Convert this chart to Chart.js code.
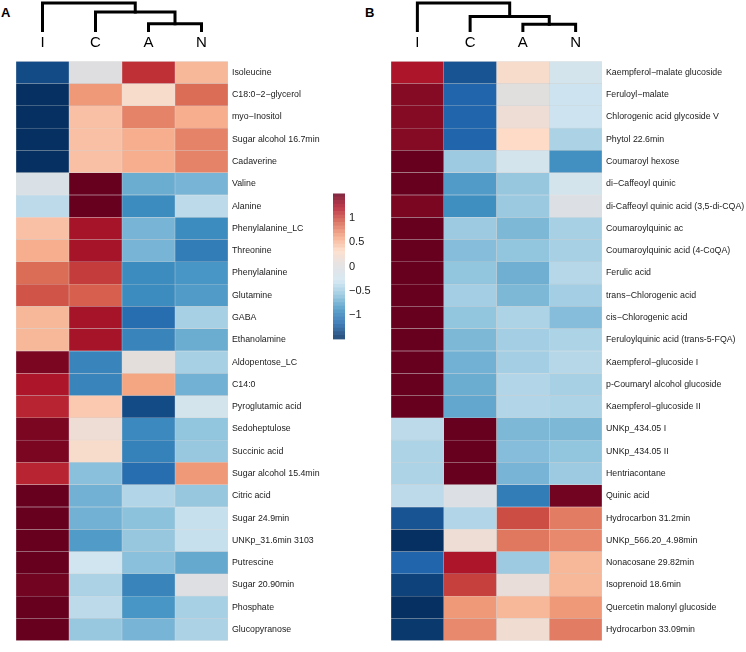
<!DOCTYPE html>
<html>
<head>
<meta charset="utf-8">
<script src="https://cdn.jsdelivr.net/npm/chart.js@4.4.1/dist/chart.umd.min.js"></script>
<style>
  body { margin: 0; background: #fff; width: 746px; height: 652px; position: relative; overflow: hidden;
         font-family: "Liberation Sans", Arial, Helvetica, sans-serif; }
  canvas { position: absolute; }
  .tag { position: absolute; font-weight: bold; font-size: 13px; line-height: 13px; color: #000; }
</style>
</head>
<body>
<div class="tag" style="left:1px;top:6px">A</div>
<div class="tag" style="left:365px;top:6px">B</div>

<canvas id="treeA" width="212" height="52" style="left:16px;top:0"></canvas>
<canvas id="heatA" width="362" height="598" style="left:16px;top:52px"></canvas>
<canvas id="treeB" width="211" height="52" style="left:391px;top:0"></canvas>
<canvas id="heatB" width="355" height="598" style="left:391px;top:52px"></canvas>
<canvas id="scale" width="52" height="167" style="left:333px;top:183px;z-index:2"></canvas>

<script>
const FONT = '"Liberation Sans", Arial, Helvetica, sans-serif';

// sample groups (columns), same order in both panels
const groups = ['I', 'C', 'A', 'N'];

// panel A: metabolites
const rowsA = ['Isoleucine', 'C18:0−2−glycerol', 'myo−Inositol', 'Sugar alcohol 16.7min', 'Cadaverine',
  'Valine', 'Alanine', 'Phenylalanine_LC', 'Threonine', 'Phenylalanine', 'Glutamine', 'GABA', 'Ethanolamine',
  'Aldopentose_LC', 'C14:0', 'Pyroglutamic acid', 'Sedoheptulose', 'Succinic acid', 'Sugar alcohol 15.4min',
  'Citric acid', 'Sugar 24.9min', 'UNKp_31.6min 3103', 'Putrescine', 'Sugar 20.90min', 'Phosphate', 'Glucopyranose'];
const aI = [-1.35, -1.5, -1.5, -1.5, -1.5, -0.12, -0.4, 0.45, 0.55, 0.85, 0.95, 0.5, 0.5,
  1.42, 1.22, 1.15, 1.42, 1.42, 1.15, 1.5, 1.5, 1.5, 1.5, 1.45, 1.5, 1.5];
const aC = [0, 0.65, 0.45, 0.45, 0.45, 1.5, 1.5, 1.25, 1.25, 1.05, 0.9, 1.25, 1.25,
  -1.0, -1.0, 0.4, 0.15, 0.25, -0.63, -0.72, -0.72, -0.85, -0.3, -0.48, -0.4, -0.57];
const aA = [1.1, 0.25, 0.75, 0.55, 0.55, -0.75, -0.95, -0.7, -0.7, -0.95, -0.95, -1.15, -1.0,
  0.05, 0.6, -1.35, -0.97, -1.02, -1.15, -0.45, -0.62, -0.58, -0.63, -1.0, -0.88, -0.7];
const aN = [0.5, 0.85, 0.55, 0.75, 0.75, -0.7, -0.4, -0.95, -1.05, -0.88, -0.85, -0.5, -0.75,
  -0.5, -0.72, -0.25, -0.6, -0.57, 0.65, -0.58, -0.35, -0.35, -0.77, -0.03, -0.5, -0.48];

// panel B: phenolics etc.
const rowsB = ['Kaempferol−malate glucoside', 'Feruloyl−malate', 'Chlorogenic acid glycoside V', 'Phytol 22.6min',
  'Coumaroyl hexose', 'di−Caffeoyl quinic', 'di-Caffeoyl quinic acid (3,5-di-CQA)', 'Coumaroylquinic ac',
  'Coumaroylquinic acid (4-CoQA)', 'Ferulic acid', 'trans−Chlorogenic acid', 'cis−Chlorogenic acid',
  'Feruloylquinic acid (trans-5-FQA)', 'Kaempferol−glucoside I', 'p-Coumaryl alcohol glucoside',
  'Kaempferol−glucoside II', 'UNKp_434.05 I', 'UNKp_434.05 II', 'Hentriacontane', 'Quinic acid',
  'Hydrocarbon 31.2min', 'UNKp_566.20_4.98min', 'Nonacosane 29.82min', 'Isoprenoid 18.6min',
  'Quercetin malonyl glucoside', 'Hydrocarbon 33.09min'];
const bI = [1.22, 1.38, 1.38, 1.38, 1.5, 1.5, 1.42, 1.5, 1.5, 1.5, 1.5, 1.5, 1.5, 1.5, 1.5, 1.5,
  -0.4, -0.47, -0.47, -0.4, -1.3, -1.5, -1.2, -1.4, -1.5, -1.45];
const bC = [-1.3, -1.2, -1.2, -1.2, -0.55, -0.85, -0.93, -0.55, -0.65, -0.6, -0.52, -0.6, -0.68, -0.72, -0.75, -0.78,
  1.5, 1.5, 1.5, -0.05, -0.45, 0.15, 1.22, 1.03, 0.65, 0.72];
const bA = [0.25, 0.03, 0.15, 0.3, -0.25, -0.58, -0.56, -0.68, -0.6, -0.73, -0.68, -0.47, -0.52, -0.52, -0.45, -0.45,
  -0.68, -0.65, -0.7, -1.05, 0.98, 0.8, -0.55, 0.1, 0.5, 0.18];
const bN = [-0.25, -0.32, -0.32, -0.48, -0.92, -0.25, -0.05, -0.5, -0.5, -0.43, -0.52, -0.65, -0.47, -0.43, -0.5, -0.47,
  -0.68, -0.6, -0.55, 1.45, 0.78, 0.72, 0.5, 0.5, 0.65, 0.78];

// column dendrograms: merge heights for (A,N), (C,AN), (I,CAN)
const treeOrder = [[2, 3], [1, 4], [0, 5]];
const treeHeightsA = [0.28, 0.69, 1.0];
const treeHeightsB = [0.27, 0.53, 1.0];

// colour key
const legendTicks = [-1, -0.5, 0, 0.5, 1];
const vmin = -1.5, vmax = 1.5;
const palette = ['#053061', '#2166ac', '#4393c3', '#92c5de', '#d1e5f0', '#dedee0',
  '#fddbc7', '#f4a582', '#d6604d', '#b2182b', '#67001f'];

function hexToRgb(h) {
  return [1, 3, 5].map(i => parseInt(h.slice(i, i + 2), 16));
}

function colorFor(v, fade = 0) {
  const t = (Math.min(vmax, Math.max(vmin, v)) - vmin) / (vmax - vmin) * (palette.length - 1);
  const i = Math.min(Math.floor(t), palette.length - 2);
  const f = t - i;
  const a = hexToRgb(palette[i]), b = hexToRgb(palette[i + 1]);
  const c = a.map((x, k) => Math.round((x + (b[k] - x) * f) * (1 - fade) + 255 * fade));
  return `rgb(${c.join(',')})`;
}

const quiet = {
  responsive: false,
  animation: false,
  events: [],
  layout: { padding: 0 },
  plugins: { legend: { display: false }, tooltip: { enabled: false } }
};

function heatmap(id, rows, cols, labelWidth) {
  new Chart(document.getElementById(id), {
    type: 'bar',
    data: {
      labels: rows,
      datasets: cols.map((vals, j) => ({
        label: groups[j],
        data: vals.map(() => 1),
        backgroundColor: vals.map(v => colorFor(v)),
        borderColor: 'rgba(170,170,170,0.35)',
        borderWidth: 0.5,
        borderSkipped: false,
        barPercentage: 1,
        categoryPercentage: 1
      }))
    },
    options: {
      ...quiet,
      indexAxis: 'y',
      scales: {
        x: { stacked: true, display: false, min: 0, max: groups.length },
        y: {
          stacked: true,
          position: 'right',
          grid: { display: false, drawTicks: false },
          border: { display: false },
          ticks: { autoSkip: false, padding: 4, color: '#1a1a1a', font: { family: FONT, size: 8.8 } },
          afterFit: s => { s.width = labelWidth; }
        }
      }
    }
  });
}

function treeSegments(heights) {
  const nodes = groups.map((g, i) => ({ x: i + 0.5, y: 0 }));
  return treeOrder.map(([a, b], k) => {
    const h = heights[k], p = nodes[a], q = nodes[b];
    nodes.push({ x: (p.x + q.x) / 2, y: h });
    return [{ x: p.x, y: p.y }, { x: p.x, y: h }, { x: q.x, y: h }, { x: q.x, y: q.y }];
  });
}

function tree(id, heights) {
  new Chart(document.getElementById(id), {
    type: 'scatter',
    data: {
      datasets: treeSegments(heights).map(seg => ({
        data: seg,
        showLine: true,
        borderColor: '#000',
        borderWidth: 3,
        borderCapStyle: 'square',
        borderJoinStyle: 'miter',
        pointRadius: 0
      }))
    },
    options: {
      ...quiet,
      scales: {
        x: {
          type: 'linear', min: 0, max: groups.length, position: 'bottom',
          grid: { display: false, drawTicks: false },
          border: { display: false },
          afterBuildTicks: s => { s.ticks = groups.map((g, i) => ({ value: i + 0.5 })); },
          ticks: { callback: (v, i) => groups[i], autoSkip: false, maxRotation: 0, padding: 2,
                   color: '#000', font: { family: FONT, size: 15 } },
          afterFit: s => { s.height = 20; }
        },
        y: { display: false, min: 0, max: 1.1 }
      }
    }
  });
}

function colourKey() {
  const steps = 40, span = (vmax - vmin) / steps;
  new Chart(document.getElementById('scale'), {
    type: 'bar',
    data: {
      labels: [''],
      datasets: Array.from({ length: steps }, (_, k) => {
        const lo = vmin + k * span;
        return {
          data: [[lo, lo + span + 0.01]],
          backgroundColor: colorFor(lo + span / 2, 0.15),
          borderWidth: 0,
          barPercentage: 1,
          categoryPercentage: 1
        };
      })
    },
    options: {
      ...quiet,
      scales: {
        x: { stacked: true, display: false },
        y: {
          stacked: false, min: vmin, max: vmax, position: 'right',
          grid: { display: false, drawTicks: false },
          border: { display: false },
          afterBuildTicks: s => { s.ticks = legendTicks.map(v => ({ value: v })); },
          ticks: { callback: v => String(v).replace('-', '−'), padding: 4, color: '#1a1a1a',
                   font: { family: FONT, size: 11 } },
          afterFit: s => { s.width = 40; }
        }
      }
    }
  });
}

tree('treeA', treeHeightsA);
tree('treeB', treeHeightsB);
heatmap('heatA', rowsA, [aI, aC, aA, aN], 150);
heatmap('heatB', rowsB, [bI, bC, bA, bN], 144);
colourKey();
</script>
</body>
</html>
